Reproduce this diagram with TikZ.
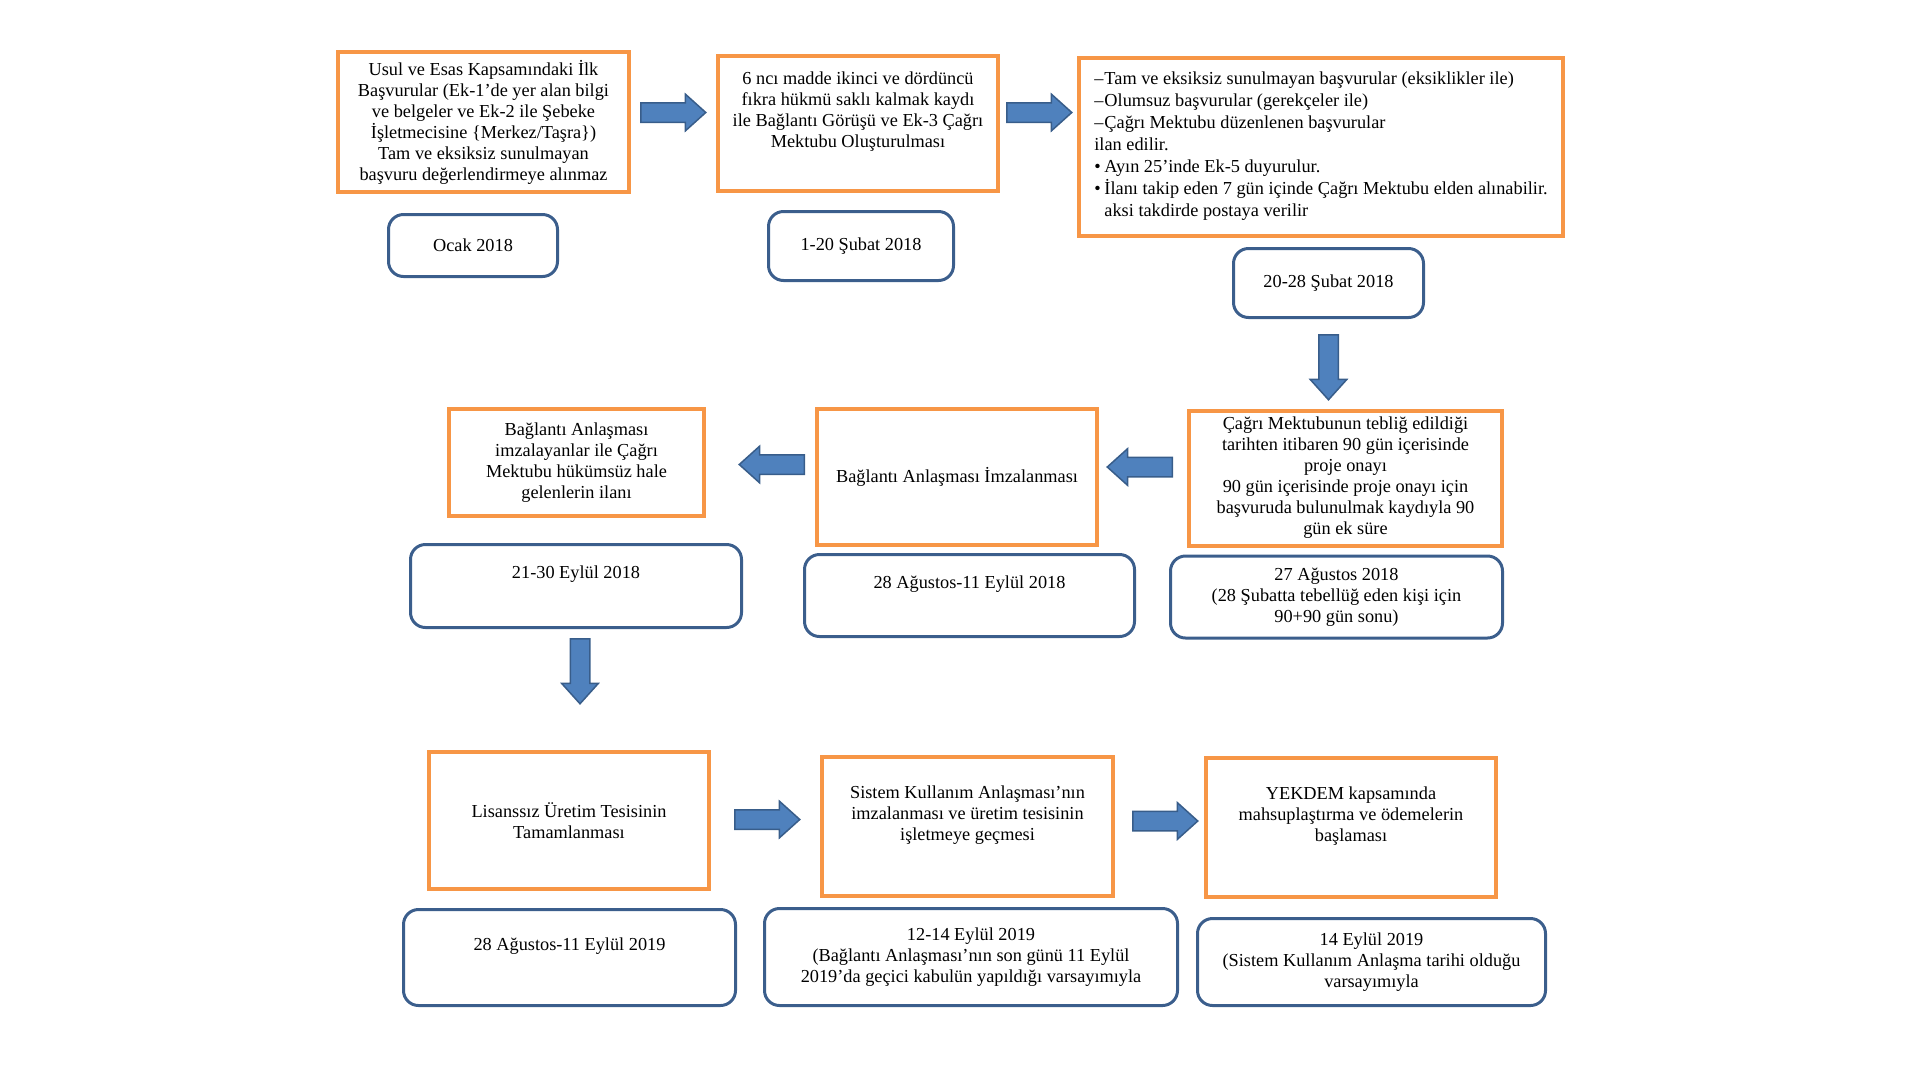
\documentclass[tikz,border=0pt]{standalone}
\usepackage{fontspec}
\setmainfont{Liberation Serif}
\usetikzlibrary{shapes.arrows}

\definecolor{turuncu}{HTML}{F79646}
\definecolor{lacivert}{HTML}{3B5E8C}
\definecolor{okmavi}{HTML}{4F81BD}
\definecolor{okkenar}{HTML}{385D8A}

\tikzset{
    yazi/.style={font=\fontsize{18.3}{21}\selectfont},
    adim/.style={yazi, draw=turuncu, line width=4pt, align=center, inner sep=3pt},
    tarih/.style={yazi, draw=lacivert, line width=3pt, rounded corners=15pt, align=center, inner sep=3pt},
    okbl/.style={single arrow, draw=okkenar, fill=okmavi, line width=1.5pt,
        minimum height=65pt, inner xsep=0pt, inner ysep=9pt,
        single arrow head extend=8.5pt, single arrow tip angle=84, anchor=tail},
    okasagi/.style={okbl, shape border rotate=270, inner xsep=9pt, inner ysep=0pt}
}
\newcommand{\tire}{\makebox[0.55em][l]{–}}
\newcommand{\nokta}{\makebox[0.55em][l]{•}}

\begin{document}
\begin{tikzpicture}[x=1pt, y=-1pt]
        \useasboundingbox (0,0) rectangle (1920,1080);

        \node[adim, minimum width=291pt, minimum height=140pt] (usul) at (483.5,122)
            {Usul ve Esas Kapsamındaki İlk\\Başvurular (Ek-1’de yer alan bilgi\\ve belgeler ve Ek-2 ile Şebeke\\İşletmecisine \{Merkez/Taşra\})\\Tam ve eksiksiz sunulmayan\\başvuru değerlendirmeye alınmaz};
        \node[adim, minimum width=280pt, minimum height=135pt] (madde) at (858,123.5)
            {6 ncı madde ikinci ve dördüncü\\fıkra hükmü saklı kalmak kaydı\\ile Bağlantı Görüşü ve Ek-3 Çağrı\\Mektubu Oluşturulması\\\strut};
        \node[adim, align=left, font=\fontsize{18.3}{22}\selectfont, minimum width=484pt, minimum height=178pt] (ilan) at (1321,146.5)
            {\tire Tam ve eksiksiz sunulmayan başvurular (eksiklikler ile)\\
             \tire Olumsuz başvurular (gerekçeler ile)\\
             \tire Çağrı Mektubu düzenlenen başvurular\\
             ilan edilir.\\
             \nokta Ayın 25’inde Ek-5 duyurulur.\\
             \nokta İlanı takip eden 7 gün içinde Çağrı Mektubu elden alınabilir.\\
             \hspace*{0.55em}aksi takdirde postaya verilir};

        \node[tarih, minimum width=169pt, minimum height=62pt] (tarihA) at (473,245.5) {Ocak 2018};
        \node[tarih, minimum width=185pt, minimum height=69pt] (tarihB) at (861,246) {1-20 Şubat 2018};
        \node[tarih, minimum width=190pt, minimum height=69pt] (tarihC) at (1328.5,283) {20-28 Şubat 2018};

        \node[adim, minimum width=313pt, minimum height=135pt] (cagri) at (1345.5,478)
            {Çağrı Mektubunun tebliğ edildiği\\tarihten itibaren 90 gün içerisinde\\proje onayı\\90 gün içerisinde proje onayı için\\başvuruda bulunulmak kaydıyla 90\\gün ek süre};
        \node[adim, minimum width=280pt, minimum height=136pt] (imza) at (957,477)
            {Bağlantı Anlaşması İmzalanması};
        \node[adim, minimum width=255pt, minimum height=107pt] (ilani) at (576.5,462.5)
            {Bağlantı Anlaşması\\imzalayanlar ile Çağrı\\Mektubu hükümsüz hale\\gelenlerin ilanı};

        \node[tarih, minimum width=332pt, minimum height=82pt] (tarihD) at (1336.5,597)
            {27 Ağustos 2018\\(28 Şubatta tebellüğ eden kişi için\\90+90 gün sonu)};
        \node[tarih, minimum width=330pt, minimum height=82pt] (tarihE) at (969.5,595.5)
            {28 Ağustos-11 Eylül 2018\\\strut};
        \node[tarih, minimum width=331pt, minimum height=83pt] (tarihF) at (576,586)
            {21-30 Eylül 2018\\\strut};

        \node[adim, minimum width=280pt, minimum height=137pt] (lisans) at (569,820.5)
            {Lisanssız Üretim Tesisinin\\Tamamlanması};
        \node[adim, minimum width=291pt, minimum height=139pt] (sistem) at (967.5,826.5)
            {Sistem Kullanım Anlaşması’nın\\imzalanması ve üretim tesisinin\\işletmeye geçmesi\\\strut};
        \node[adim, minimum width=290pt, minimum height=139pt] (yekdem) at (1351,827.5)
            {YEKDEM kapsamında\\mahsuplaştırma ve ödemelerin\\başlaması\\\strut};

        \node[tarih, minimum width=332pt, minimum height=96pt] (tarihG) at (569.5,957.5)
            {28 Ağustos-11 Eylül 2019\\\strut};
        \node[tarih, minimum width=413pt, minimum height=97pt] (tarihH) at (971,957)
            {12-14 Eylül 2019\\(Bağlantı Anlaşması’nın son günü 11 Eylül\\2019’da geçici kabulün yapıldığı varsayımıyla};
        \node[tarih, minimum width=348pt, minimum height=87pt] (tarihI) at (1371.5,962)
            {14 Eylül 2019\\(Sistem Kullanım Anlaşma tarihi olduğu\\varsayımıyla};

        \node[okbl] (ok1) at ([xshift=9pt, yshift=9.5pt]usul.east) {};
        \node[okbl] (ok2) at ([xshift=6pt, yshift=11pt]madde.east) {};
        \node[okasagi] (ok3) at ([yshift=-15pt]tarihC.south) {};
        \node[okbl, shape border rotate=180] (ok4) at ([xshift=-14pt, yshift=11pt]cagri.west) {};
        \node[okbl, shape border rotate=180] (ok5) at ([xshift=-10pt, yshift=12.5pt]imza.west) {};
        \node[okasagi] (ok6) at ([xshift=4pt, yshift=-9pt]tarihF.south) {};
        \node[okbl] (ok7) at ([xshift=23pt, yshift=1pt]lisans.east) {};
        \node[okbl] (ok8) at ([xshift=17pt, yshift=5.5pt]sistem.east) {};
\end{tikzpicture}
\end{document}
